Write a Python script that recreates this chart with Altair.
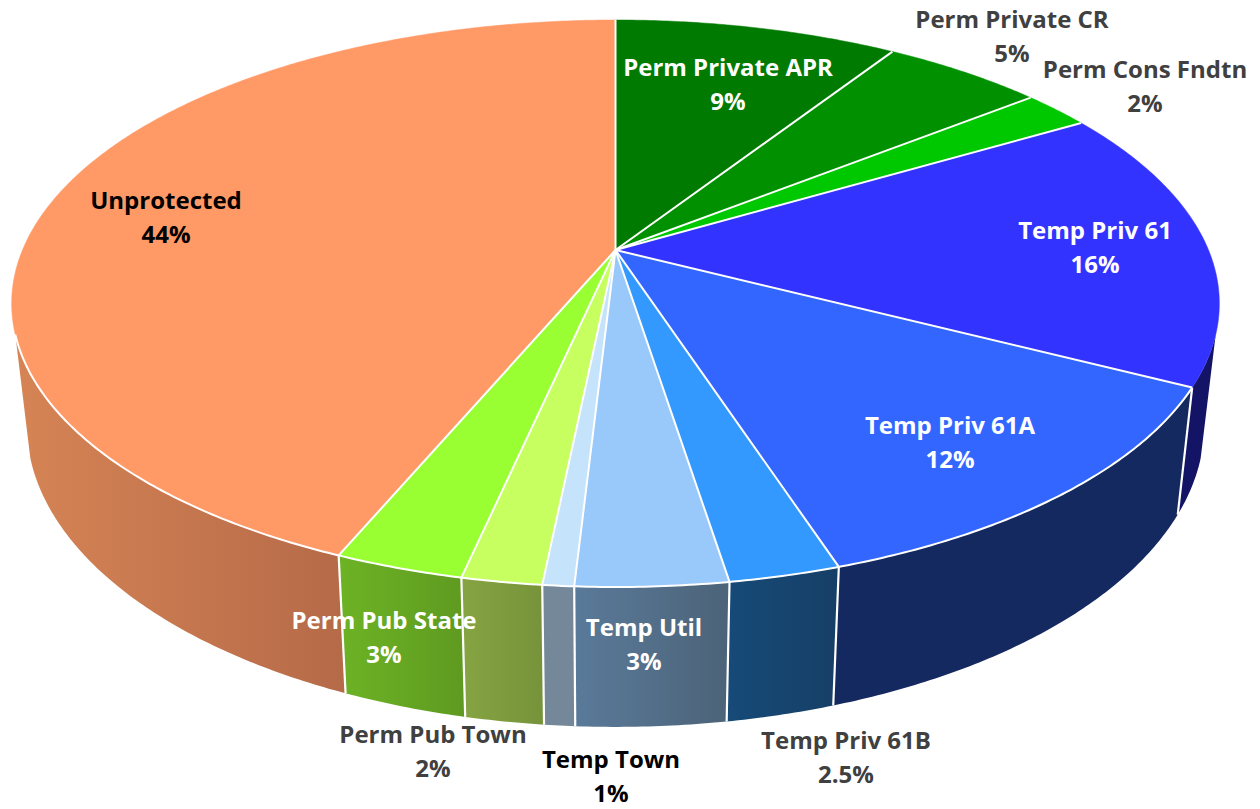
import numpy as np
import pandas as pd
import altair as alt

# ---- data ----
names = ["Perm Private APR", "Perm Private CR", "Perm Cons Fndtn", "Temp Priv 61", "Temp Priv 61A",
         "Temp Priv 61B", "Temp Util", "Temp Town", "Perm Pub Town", "Perm Pub State", "Unprotected"]
shares = [9.1, 5.2, 2.2, 16.1, 12.4, 2.5, 3.4, 0.7, 1.8, 2.9, 43.7]
pct_labels = ["9%", "5%", "2%", "16%", "12%", "2.5%", "3%", "1%", "2%", "3%", "44%"]

# ---- styles ----
top_colors = ["#007A00", "#009000", "#00C800", "#3333FF", "#3366FF", "#3399FF",
              "#99C8FA", "#C5E3FA", "#C6FF5F", "#99FF33", "#FF9966"]
side_left = ["#005500", "#006400", "#008C00", "#131466", "#14295F", "#164A78",
             "#5A7A9A", "#74889A", "#86A442", "#6DB325", "#D68455"]
side_right = ["#005500", "#006400", "#008C00", "#131466", "#14295F", "#163F66",
              "#4C6378", "#74889A", "#76933A", "#5E9A20", "#B56A48"]
label_colors = ["white", "#404040", "#404040", "white", "white", "#404040",
                "white", "black", "#404040", "white", "black"]
label_x = [728, 1012, 1145, 1095, 950, 846, 644, 611, 433, 384, 166]
label_y = [69, 21, 71, 232, 427, 742, 629, 761, 736, 622, 202]
LINE_GAP = 34
FONT = "Open Sans"
FONT_SIZE = 24

# ---- perspective model of the disc (page pixels) ----
CX, CY, A, B, K = 615.5, 250.0, 593.0, 273.4, 0.1887
SX, YB, SY = 0.975, 368.0, 1.065     # lower rim of the disc
VIS0, VIS1 = 107.0, 253.0            # range of angles where the wall faces the viewer


def top_pt(deg):
    t = np.radians(deg)
    u, v = np.sin(t), np.cos(t)
    d = 1 + K * v
    return [float(CX + A * u / d), float(CY - B * v / d)]


def bot_pt(deg):
    t = np.radians(deg)
    u, v = np.sin(t), np.cos(t)
    d = 1 + K * v
    return [float(CX + SX * A * u / d), float(YB - SY * B * v / d)]


def span(a, b, step=0.5):
    n = max(2, int(abs(b - a) / step) + 2)
    return [float(x) for x in np.linspace(a, b, n)]


def feature(kind, coords, **props):
    return {"type": "Feature", "properties": props, "geometry": {"type": kind, "coordinates": coords}}


edges = np.concatenate([[0.0], np.cumsum(shares)]) / float(np.sum(shares)) * 360.0

proj = dict(type="identity", scale=1, translate=[-8, -8])


def geo(features):
    return alt.Chart(alt.Data(values=features))


layers = []

# walls
for i, name in enumerate(names):
    a, b = max(edges[i], VIS0), min(edges[i + 1], VIS1)
    if a >= b:
        continue
    ring = [top_pt(d) for d in span(a, b)] + [bot_pt(d) for d in span(b, a)]
    ring.append(ring[0])
    grad = alt.LinearGradient(gradient="linear", x1=0, x2=1, y1=0, y2=0,
                              stops=[alt.GradientStop(offset=0, color=side_left[i]),
                                     alt.GradientStop(offset=1, color=side_right[i])])
    layers.append(geo([feature("Polygon", [ring], name=name)]).mark_geoshape(fill=grad).project(**proj))

# wall dividers
dividers = []
for e in edges[:-1]:
    if VIS0 < e < VIS1:
        dividers.append(feature("LineString", [top_pt(e), bot_pt(e)]))
layers.append(geo(dividers).mark_geoshape(filled=False, stroke="white", strokeWidth=2.2).project(**proj))

# top face
tops = []
for i, name in enumerate(names):
    ring = [[CX, CY]] + [top_pt(d) for d in span(edges[i], edges[i + 1])] + [[CX, CY]]
    tops.append(feature("Polygon", [ring], name=name))
layers.append(
    geo(tops).mark_geoshape(strokeWidth=0.5).encode(
        fill=alt.Fill("properties.name:N", scale=alt.Scale(domain=names, range=top_colors), legend=None),
        stroke=alt.Stroke("properties.name:N", scale=alt.Scale(domain=names, range=top_colors), legend=None),
    ).project(**proj)
)

# white spokes and front rim
lines = [feature("LineString", [[CX, CY], top_pt(e)]) for e in edges[:-1]]
lines.append(feature("LineString", [top_pt(d) for d in span(edges[4], VIS1)]))
layers.append(geo(lines).mark_geoshape(filled=False, stroke="white", strokeWidth=2.0).project(**proj))

# labels
rows = []
for i, name in enumerate(names):
    rows.append({"t": name, "px": label_x[i] - 8, "py": label_y[i] - 8, "c": label_colors[i]})
    rows.append({"t": pct_labels[i], "px": label_x[i] - 8, "py": label_y[i] - 8 + LINE_GAP, "c": label_colors[i]})
layers.append(
    alt.Chart(pd.DataFrame(rows)).mark_text(font=FONT, fontSize=FONT_SIZE, fontWeight="bold",
                                            align="center", baseline="middle").encode(
        x=alt.X("px:Q", scale=None, axis=None),
        y=alt.Y("py:Q", scale=None, axis=None),
        text="t:N",
        color=alt.Color("c:N", scale=None),
    )
)

chart = alt.layer(*layers).properties(
    width=1244, height=800, padding=0,
    autosize=alt.AutoSizeParams(type="none"),
    background="white",
).configure_view(stroke=None)

chart.save("out.html", embed_options={"renderer": "svg", "actions": False})
